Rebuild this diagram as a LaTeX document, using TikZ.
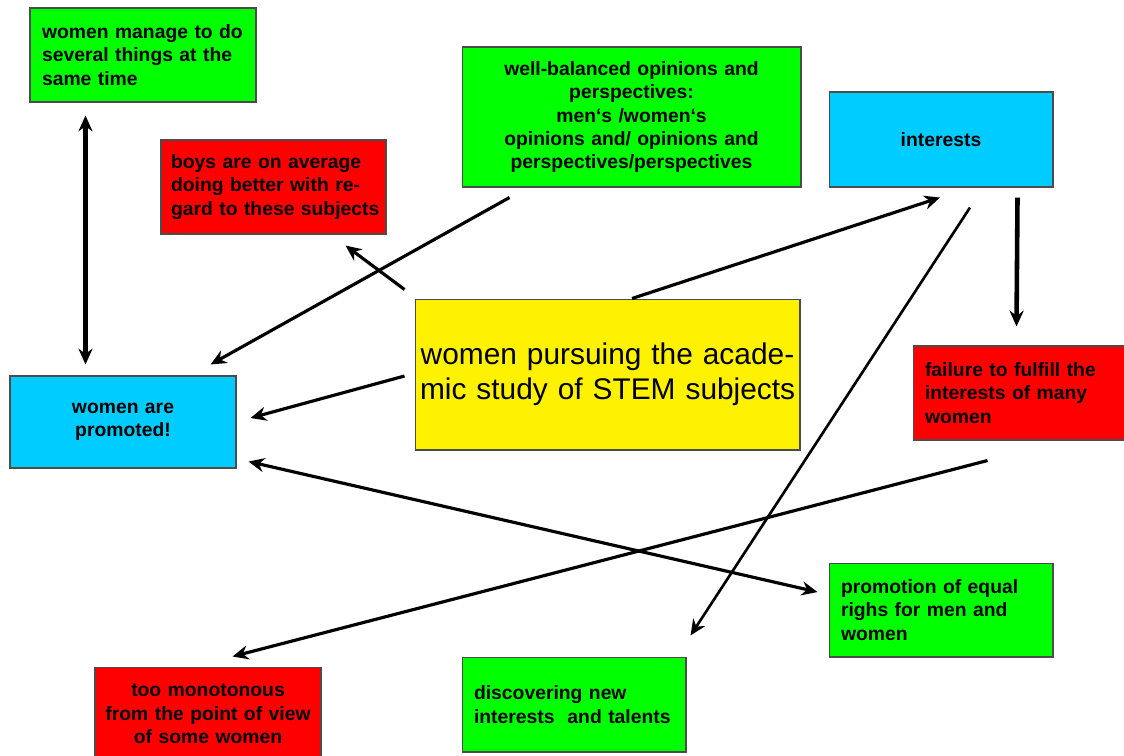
\documentclass[tikz,border=0pt]{standalone}
\usepackage{fontspec}
\setmainfont{Liberation Sans}
\usetikzlibrary{arrows.meta, positioning}
\definecolor{skyblue}{RGB}{0,204,255}

\begin{document}
\begin{tikzpicture}[
        x=0.02cm, y=-0.02cm,
        box/.style={
            rectangle, draw=black!70, line width=0.6pt, inner xsep=0.24cm, inner ysep=0pt,
            align=left, text=black, font=\fontsize{11}{13.3}\selectfont\bfseries
        },
        greenbox/.style={box, fill=green},
        redbox/.style={box, fill=red},
        bluebox/.style={box, fill=skyblue, align=center},
        arrow/.style={->, >={Stealth[length=9pt, width=8pt]}, line width=1.8pt}
    ]
        \useasboundingbox (0,0) rectangle (1124,755);
        \clip (0,0) rectangle (1124,755);

        % Central node
        \node (stem) [box, fill=yellow, align=center, inner xsep=0.1cm, text width=7.5cm, minimum height=3.02cm,
            font=\fontsize{17}{19.8}\selectfont] at (607.5,374.5)
            {\mbox{women pursuing the acade-}\\\mbox{mic study of STEM subjects}};

        % Surrounding nodes
        \node (manage) [greenbox, text width=4.04cm, minimum height=1.88cm] at (143,55)
            {women manage to do\\several things at the\\same time};
        \node (boys) [redbox, inner xsep=0.2cm, text width=4.1cm, minimum height=1.88cm] at (273.5,187)
            {boys are on average\\doing better with re-\\\mbox{gard to these subjects}};
        \node (balanced) [greenbox, align=center, text width=6.3cm, minimum height=2.8cm] at (631.5,117)
            {well-balanced opinions and\\perspectives:\\men‘s /women‘s\\opinions and/ opinions and\\perspectives/perspectives};
        \node (interests) [bluebox, text width=4cm, minimum height=1.9cm] at (941,139.5) {interests};
        \node (promoted) [bluebox, text width=4.04cm, minimum height=1.84cm] at (123,422)
            {women are\\promoted!};
        \node (failure) [redbox, text width=4.04cm, minimum height=1.88cm] at (1026,393)
            {failure to fulfill the\\interests of many\\women};
        \node (equal) [greenbox, text width=4cm, minimum height=1.88cm] at (941,610)
            {promotion of equal\\righs for men and\\women};
        \node (talents) [greenbox, text width=4cm, minimum height=1.9cm] at (574,704.5)
            {discovering new\\interests\ \ and talents};
        \node (monotonous) [redbox, align=center, inner xsep=0.06cm, text width=4.4cm, minimum height=1.88cm] at (208,714)
            {too monotonous\\\mbox{from the point of view}\\of some women};

        % Connectors
        \draw[arrow, <->, line width=2.6pt] ([shift={(56,13)}]manage.south west) -- ([shift={(76,-11)}]promoted.north west);
        \draw[arrow] ([shift={(-10,-9)}]stem.north west) -- ([shift={(-41,11)}]boys.south east);
        \draw[arrow] ([shift={(48,10)}]balanced.south west) -- ([shift={(-26,-11)}]promoted.north east);
        \draw[arrow] ([shift={(-10,1.5)}]stem.west) -- ([shift={(14,-4)}]promoted.east);
        \draw[arrow] ([shift={(24.5,0)}]stem.north) -- ([shift={(-1,10)}]interests.south);
        \draw[arrow, line width=1.5pt] ([shift={(29,20)}]interests.south) -- ([shift={(4,-21)}]talents.north east);
        \draw[arrow, line width=2.6pt] ([shift={(-36,10)}]interests.south east) -- ([shift={(104,-19)}]failure.north west);
        \draw[arrow] ([shift={(75,20)}]failure.south west) -- ([shift={(-89,-10)}]monotonous.north east);
        \draw[arrow, <->] ([shift={(12,-7)}]promoted.south east) -- ([shift={(-11,-18)}]equal.west);

    \end{tikzpicture}
\end{document}
